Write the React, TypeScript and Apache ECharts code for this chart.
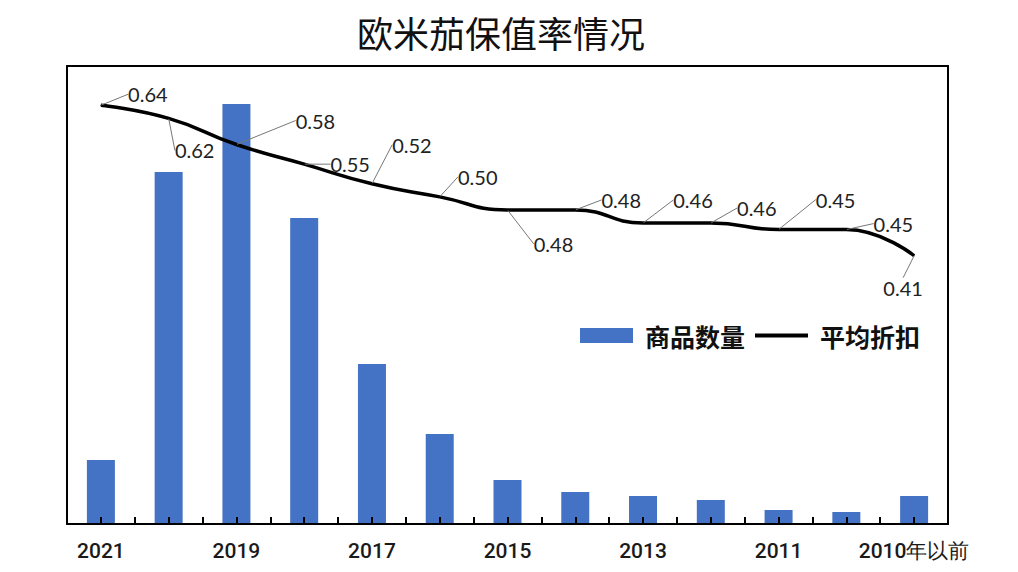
import React, { useEffect, useRef } from "react";
import * as echarts from "echarts";

const categories = ["2021", "2020", "2019", "2018", "2017", "2016", "2015", "2014", "2013", "2012", "2011", "2010", "2010年以前"];
const counts = [64, 352, 420, 306, 160, 90, 44, 32, 28, 24, 14, 12, 28];
const discounts = [0.64, 0.62, 0.58, 0.55, 0.52, 0.5, 0.48, 0.48, 0.46, 0.46, 0.45, 0.45, 0.41];
const labelOffsets = [
  [47, -11], [26, 32], [79, -24], [46, 0], [40, -39], [38, -20], [46, 34],
  [46, -10], [50, -23], [46, -15], [57, -30], [47, -6], [-11, 32],
];

const frameLine = { show: true, onZero: false, lineStyle: { color: "#000", width: 2 } };

const tickAxis = (alignWithLabel: boolean) => ({
  type: "category",
  data: categories,
  gridIndex: 1,
  position: "bottom",
  z: 10,
  axisLine: { show: true, onZero: false, lineStyle: { color: "rgba(0,0,0,0)", width: 1 } },
  axisTick: { show: true, inside: false, length: 7, interval: 0, alignWithLabel, lineStyle: { color: "#000", width: 2 } },
  axisLabel: { show: false },
});

export default function App() {
  const ref = useRef<HTMLDivElement>(null);
  useEffect(() => {
    const chart = echarts.init(ref.current!, null, { renderer: "svg" });
    chart.setOption({
      animation: false,
      backgroundColor: "#fff",
      title: {
        text: "欧米茄保值率情况",
        left: 352,
        top: 9,
        textStyle: { fontFamily: "Noto Sans CJK SC", fontSize: 36, fontWeight: "normal", color: "#111" },
      },
      legend: {
        left: 575,
        top: 318,
        itemWidth: 53,
        itemHeight: 15,
        itemGap: 10,
        symbolKeepAspect: true,
        textStyle: { fontFamily: "Noto Sans CJK SC", fontSize: 25, fontWeight: "bold", color: "#111", padding: [0, 0, 0, 7] },
        data: [
          { name: "商品数量", icon: "rect" },
          { name: "平均折扣", icon: "path://M0,0H60V4.5H0Z", itemStyle: { color: "#000" } },
        ],
      },
      grid: [
        { left: 67, right: 70, top: 66, bottom: 48, show: false, containLabel: false },
        { left: 67, right: 70, top: 500, bottom: 55, show: false, containLabel: false },
      ],
      xAxis: [
        {
          type: "category",
          data: categories,
          position: "bottom",
          z: 10,
          axisLine: frameLine,
          axisTick: { show: false },
          axisLabel: { interval: 1, margin: 16, fontFamily: "Roboto", fontWeight: 500, fontSize: 21, color: "#1a1a1a" },
        },
        {
          type: "category",
          data: categories,
          position: "top",
          axisLine: frameLine,
          axisTick: { show: false },
          axisLabel: { show: false },
        },
        tickAxis(false),
        tickAxis(true),
      ],
      yAxis: [
        {
          type: "value", min: 0, max: 458, position: "left",
          axisLine: frameLine, axisTick: { show: false }, axisLabel: { show: false }, splitLine: { show: false },
        },
        {
          type: "value", min: 0, max: 0.7, position: "right",
          axisLine: frameLine, axisTick: { show: false }, axisLabel: { show: false }, splitLine: { show: false },
        },
        { type: "value", gridIndex: 1, min: 0, max: 1, show: false },
      ],
      series: [
        {
          name: "商品数量",
          type: "bar",
          data: counts,
          barWidth: 28,
          itemStyle: { color: "#4472C4" },
          z: 2,
        },
        {
          name: "平均折扣",
          type: "line",
          yAxisIndex: 1,
          data: discounts,
          smooth: 0.5,
          symbol: "circle",
          symbolSize: 1,
          itemStyle: { color: "#000" },
          lineStyle: { color: "#000", width: 3.5 },
          z: 3,
          label: {
            show: true,
            position: "inside",
            formatter: (p: any) => p.value.toFixed(2),
            fontFamily: "Lato",
            fontSize: 20,
            color: "#222",
          },
          labelLine: { show: true, lineStyle: { color: "#777", width: 1 } },
          labelLayout: (p: any) => ({ dx: labelOffsets[p.dataIndex][0], dy: labelOffsets[p.dataIndex][1] }),
        },
      ],
    });
    return () => chart.dispose();
  }, []);
  return <div ref={ref} style={{ position: "fixed", left: 0, top: 0, width: 1018, height: 572 }} />;
}
